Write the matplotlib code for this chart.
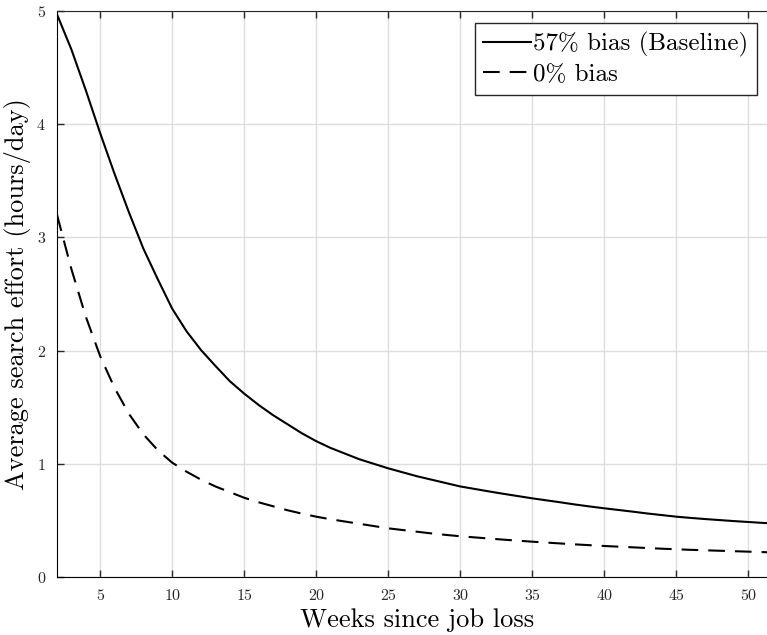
import matplotlib
matplotlib.use('Agg')
import matplotlib.pyplot as plt

# weeks since job loss
weeks = list(range(2, 53))

# average search effort (hours/day)
effort_baseline = [
    4.97, 4.66, 4.30, 3.92, 3.56, 3.22, 2.90, 2.63, 2.37, 2.17,
    2.005, 1.865, 1.73, 1.62, 1.52, 1.43, 1.35, 1.27, 1.20, 1.14,
    1.09, 1.04, 1.00, 0.96, 0.925, 0.89, 0.86, 0.83, 0.80, 0.778,
    0.756, 0.735, 0.715, 0.695, 0.677, 0.659, 0.64, 0.623, 0.607, 0.592,
    0.577, 0.561, 0.547, 0.533, 0.522, 0.512, 0.503, 0.494, 0.486, 0.478,
    0.471,
]
effort_nobias = [
    3.20, 2.72, 2.30, 1.95, 1.67, 1.44, 1.26, 1.12, 1.01, 0.93,
    0.86, 0.80, 0.75, 0.70, 0.66, 0.625, 0.59, 0.56, 0.533, 0.51,
    0.49, 0.47, 0.45, 0.43, 0.415, 0.40, 0.385, 0.372, 0.36, 0.35,
    0.34, 0.33, 0.321, 0.312, 0.304, 0.296, 0.288, 0.281, 0.274, 0.268,
    0.262, 0.256, 0.25, 0.245, 0.24, 0.236, 0.232, 0.228, 0.224, 0.22,
    0.216,
]

series_labels = ['57% bias (Baseline)', '0% bias']
x_ticks = [5, 10, 15, 20, 25, 30, 35, 40, 45, 50]
y_ticks = [0, 1, 2, 3, 4, 5]

plt.rcParams['font.family'] = 'cmr10'
plt.rcParams['axes.formatter.use_mathtext'] = True

fig = plt.figure(figsize=(7.67, 6.35), dpi=100)
# axes run slightly past the right edge, like the cropped original
ax = fig.add_axes([57 / 767, 58 / 635, 720 / 767, 566 / 635])

ax.plot(weeks, effort_baseline, '-', color='black', lw=1.5, label=series_labels[0])
ax.plot(weeks, effort_nobias, '--', color='black', lw=1.5, dashes=(8, 4.8), label=series_labels[1])

ax.set_xlim(2, 52)
ax.set_ylim(0, 5)
ax.set_xticks(x_ticks)
ax.set_yticks(y_ticks)
ax.tick_params(direction='in', length=5, width=1, top=True, right=False,
               labelsize=11.5, colors='#262626', pad=8)
ax.grid(True, color='#dddddd', lw=1)
ax.set_axisbelow(True)
for side in ['top', 'bottom', 'left', 'right']:
    ax.spines[side].set_color('#262626')
ax.spines['bottom'].set_color('black')
ax.spines['left'].set_color('black')

ax.set_xlabel('Weeks since job loss', fontsize=19, labelpad=4)
ax.set_ylabel('Average search effort (hours/day)', fontsize=19, labelpad=4)

leg = ax.legend(loc='upper right', bbox_to_anchor=(0.972, 0.978),
                fontsize=18, frameon=True, fancybox=False, edgecolor='#262626',
                framealpha=1.0, handlelength=1.9, handletextpad=0.08,
                borderpad=0.35, labelspacing=0.25, borderaxespad=0.0)
leg.get_frame().set_linewidth(1.0)

fig.savefig('out.png', dpi=100)
